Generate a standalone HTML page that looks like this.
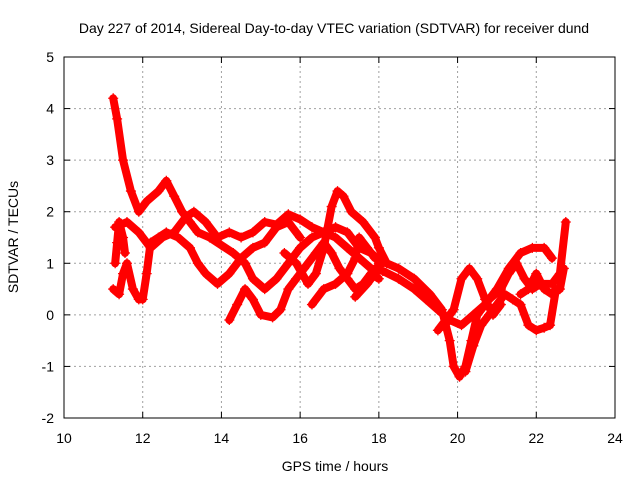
<!DOCTYPE html>
<html><head><meta charset="utf-8"><style>
body{margin:0;background:#fff}
svg text{font-family:"Liberation Sans",sans-serif;font-size:14px;fill:#000}
</style></head><body>
<svg width="640" height="480" xmlns="http://www.w3.org/2000/svg">
<rect width="640" height="480" fill="#fff"/>
<text x="334" y="33" text-anchor="middle">Day 227 of 2014, Sidereal Day-to-day VTEC variation (SDTVAR) for receiver dund</text>
<text x="335" y="471" text-anchor="middle">GPS time / hours</text>
<text transform="translate(18,237) rotate(-90)" text-anchor="middle">SDTVAR / TECUs</text>
<g id="grid"></g>
<g id="marks"></g>
<g id="axes"></g>
</svg>
<script>
const xTicks=[10,12,14,16,18,20,22,24];
const yTicks=[-2,-1,0,1,2,3,4,5];
const track1=[[11.25,4.2],[11.35,3.8],[11.5,3.0],[11.7,2.4],[11.9,2.0],[12.1,2.2],[12.4,2.4],[12.6,2.6],[12.8,2.3],[13.0,2.0],[13.2,1.8],[13.4,1.6],[13.7,1.5],[14.0,1.35],[14.3,1.2],[14.6,1.0],[14.8,0.7],[15.1,0.5],[15.4,0.7],[15.7,1.0],[16.0,1.3],[16.3,1.5],[16.6,1.6],[16.9,1.5],[17.2,1.3],[17.5,1.1],[17.8,0.9],[18.1,0.85],[18.5,0.7],[18.9,0.5],[19.2,0.3],[19.5,0.1],[19.8,-0.1],[20.1,-0.2],[20.4,0.0],[20.7,0.2],[21.0,0.5],[21.3,0.9],[21.6,1.2],[21.9,1.3],[22.2,1.3],[22.4,1.1]];
const track2=[[11.3,1.7],[11.6,1.8],[11.9,1.6],[12.2,1.3],[12.5,1.5],[12.8,1.6],[13.1,1.9],[13.3,2.0],[13.6,1.8],[13.9,1.5],[14.2,1.6],[14.5,1.5],[14.8,1.6],[15.1,1.8],[15.4,1.75],[15.7,1.95],[16.0,1.85],[16.3,1.7],[16.6,1.6],[16.9,1.7],[17.2,1.6],[17.5,1.3],[17.8,1.2],[18.1,1.0]];
const track3=[[15.6,1.2],[15.9,1.0],[16.2,0.6],[16.4,0.8],[16.6,1.3],[16.8,2.1],[16.95,2.4],[17.1,2.3],[17.3,2.0],[17.6,1.8],[17.9,1.5],[18.0,1.3],[18.2,1.0],[18.5,0.9],[18.9,0.7],[19.3,0.4],[19.6,0.1],[19.8,-0.5],[19.9,-1.0],[20.05,-1.2],[20.2,-1.0],[20.35,-0.5],[20.5,0.0],[20.8,0.3],[21.1,0.5],[21.3,0.8],[21.5,1.0],[21.7,0.7],[21.9,0.5],[22.1,0.6],[22.4,0.6],[22.6,0.8],[22.75,1.8]];
const track4=[[14.2,-0.1],[14.4,0.2],[14.6,0.5],[14.8,0.3],[15.0,0.0],[15.3,-0.05],[15.5,0.1],[15.7,0.5],[15.9,0.7],[16.1,0.9],[16.4,1.2],[16.6,1.4],[16.8,1.2],[17.0,0.9],[17.2,0.7],[17.4,0.5],[17.6,0.6],[17.8,0.8],[18.0,0.7]];
const track5=[[16.3,0.2],[16.6,0.5],[16.9,0.6],[17.2,0.8],[17.4,1.1],[17.5,1.5],[17.7,1.3],[17.9,1.1]];
const track6=[[11.25,0.5],[11.4,0.4],[11.5,0.8],[11.6,1.0],[11.75,0.5],[11.9,0.3],[12.0,0.3],[12.1,0.8],[12.2,1.4],[12.4,1.5],[12.6,1.6],[12.9,1.5],[13.2,1.3],[13.4,1.0],[13.6,0.8],[13.9,0.6],[14.2,0.8],[14.5,1.1],[14.8,1.3],[15.1,1.4],[15.4,1.7],[15.7,1.8],[16.0,1.5]];
const track7=[[17.4,0.35],[17.7,0.6],[17.9,0.8],[18.0,1.0]];
const track8=[[19.5,-0.3],[19.7,-0.1],[19.9,0.1],[20.1,0.7],[20.3,0.9],[20.5,0.7],[20.7,0.3],[20.9,0.0],[21.1,0.2]];
const track9=[[20.2,-1.1],[20.4,-0.6],[20.6,-0.2],[20.8,0.0],[21.0,0.2],[21.2,0.4],[21.4,0.3],[21.6,0.2],[21.8,-0.2],[22.0,-0.3],[22.2,-0.25],[22.35,-0.2],[22.5,0.5]];
const track10=[[21.6,0.4],[21.8,0.5],[22.0,0.8],[22.2,0.5],[22.4,0.4],[22.6,0.5],[22.7,0.9]];
const track11=[[11.3,1.0],[11.35,1.4],[11.4,1.8],[11.5,1.5],[11.55,1.2]];
const tracks=[track1,track2,track3,track4,track5,track6,track7,track8,track9,track10,track11];

const X0=64,X1=615,Y0=418,Y1=57;
const xs=v=>X0+(v-10)/(24-10)*(X1-X0);
const ys=v=>Y0-(v+2)/7*(Y0-Y1);
const NS="http://www.w3.org/2000/svg";
function mk(t,a,p){const e=document.createElementNS(NS,t);for(const k in a)e.setAttribute(k,a[k]);p.appendChild(e);return e;}
const grid=document.getElementById('grid'),axes=document.getElementById('axes'),marks=document.getElementById('marks');
xTicks.forEach(t=>{const x=xs(t);
 if(t>10&&t<24){const g=mk('line',{x1:x,x2:x,y1:Y0,y2:Y1,stroke:'#a0a0a0','stroke-dasharray':'2,3'},grid);
 }
 mk('line',{x1:x,x2:x,y1:Y0,y2:Y0-6,stroke:'#000'},axes);mk('line',{x1:x,x2:x,y1:Y1,y2:Y1+6,stroke:'#000'},axes);
 const l=mk('text',{x:x,y:Y0+25,'text-anchor':'middle'},axes);l.textContent=t;
 });
yTicks.forEach(t=>{const y=ys(t);
 if(t>-2&&t<5){const g=mk('line',{x1:X0,x2:X1,y1:y,y2:y,stroke:'#a0a0a0','stroke-dasharray':'2,3'},grid);
 }
 mk('line',{x1:X0,x2:X0+6,y1:y,y2:y,stroke:'#000'},axes);mk('line',{x1:X1,x2:X1-6,y1:y,y2:y,stroke:'#000'},axes);
 const l=mk('text',{x:X0-10,y:y+5,'text-anchor':'end'},axes);l.textContent=t;
 });
const b=mk('rect',{x:X0,y:Y1,width:X1-X0,height:Y0-Y1,fill:'none',stroke:'#000'},axes);

tracks.forEach(tr=>{
 const pl=mk('polyline',{points:tr.map(p=>xs(p[0])+','+ys(p[1])).join(' '),fill:'none',stroke:'#ff0000','stroke-width':8,'stroke-linejoin':'round','stroke-linecap':'round'},marks);
 
 tr.forEach(p=>{const x=xs(p[0]),y=ys(p[1]);
  const m=mk('path',{d:`M${x-5},${y}H${x+5}M${x},${y-5}V${y+5}`,stroke:'#ff0000','stroke-width':1.3},marks);
  });
});
</script>
</body></html>
